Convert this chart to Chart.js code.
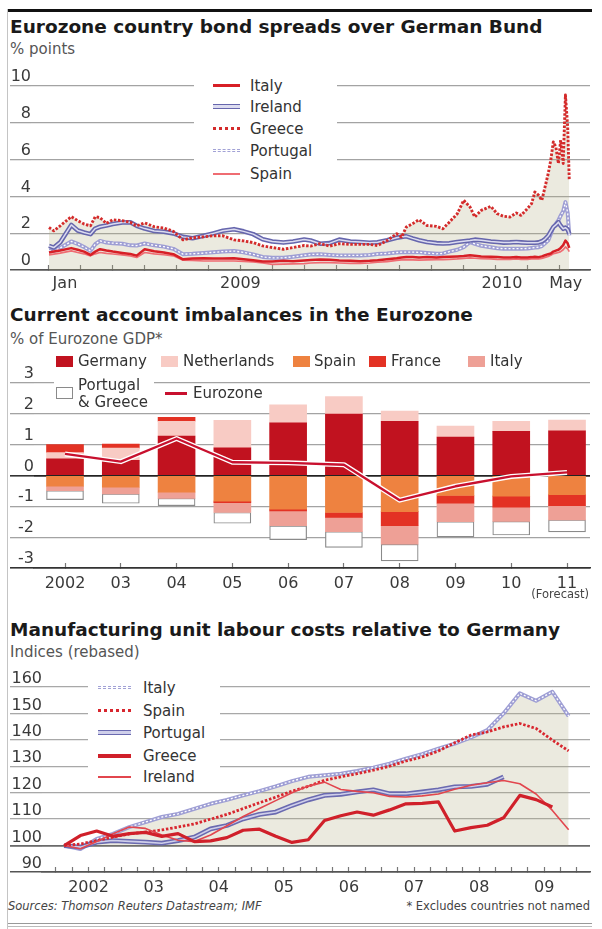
<!DOCTYPE html>
<html><head><meta charset="utf-8">
<script src="https://cdn.jsdelivr.net/npm/chart.js@4.4.1/dist/chart.umd.min.js"></script>
<style>
html,body{margin:0;padding:0;background:#fff;}
#wrap{position:relative;width:602px;height:929px;overflow:hidden;font-family:"DejaVu Sans",sans-serif;color:#333;}
.t{position:absolute;white-space:nowrap;line-height:1;transform:translateY(-50%);}
.title{left:10px;font-weight:bold;font-size:18.5px;color:#1a1a1a;}
.sub{left:10px;font-size:15px;color:#555;}
.li{font-size:15px;color:#333;}
canvas{position:absolute;left:0;}
.box{position:absolute;background:#fff;}
.sw{position:absolute;}
</style></head><body>
<div id="wrap">
  <div class="sw" style="left:8px;top:9px;width:584px;height:3px;background:#111;"></div>
  <div class="sw" style="left:7px;top:9px;width:1px;height:920px;background:#c4c4c4;"></div>

  <div class="t title" style="top:27px;">Eurozone country bond spreads over German Bund</div>
  <div class="t sub" style="top:49px;">% points</div>
  <canvas id="c1" width="602" height="235" style="top:60px;"></canvas>

  <div class="t title" style="top:315px;">Current account imbalances in the Eurozone</div>
  <div class="t sub" style="top:339px;">% of Eurozone GDP*</div>
  <canvas id="c2" width="602" height="260" style="top:350px;"></canvas>

  <div class="t title" style="top:630px;">Manufacturing unit labour costs relative to Germany</div>
  <div class="t sub" style="top:652px;">Indices (rebased)</div>
  <canvas id="c3" width="602" height="230" style="top:665px;"></canvas>

  <!-- legend panel 1 -->
  <div class="box" style="left:194px;top:76px;width:143px;height:110px;"></div>
  <div class="sw" style="left:213px;top:84px;width:27px;height:3px;background:#d71f26;"></div>
  <div class="t li" style="left:250px;top:86px;">Italy</div>
  <div class="sw" style="left:213px;top:104px;width:27px;height:3px;background:#dcdcf0;border:1.5px solid #6666ad;border-left:none;border-right:none;"></div>
  <div class="t li" style="left:250px;top:107px;">Ireland</div>
  <div class="sw" style="left:213px;top:127px;width:27px;height:0;border-top:3px dotted #d42b2b;"></div>
  <div class="t li" style="left:250px;top:129px;">Greece</div>
  <div class="sw" style="left:213px;top:149px;width:27px;height:1px;background:#fff;border:1.5px dashed #a2a2d6;border-left:none;border-right:none;"></div>
  <div class="t li" style="left:250px;top:151px;">Portugal</div>
  <div class="sw" style="left:213px;top:173px;width:27px;height:2px;background:#ef6c72;"></div>
  <div class="t li" style="left:250px;top:174px;">Spain</div>

  <!-- legend panel 2 -->
  <div class="sw" style="left:56px;top:356px;width:17px;height:11px;background:#c1121f;"></div>
  <div class="t li" style="left:78px;top:361px;">Germany</div>
  <div class="sw" style="left:161px;top:356px;width:17px;height:11px;background:#f8cbc4;"></div>
  <div class="t li" style="left:183px;top:361px;">Netherlands</div>
  <div class="sw" style="left:293px;top:356px;width:17px;height:11px;background:#ee8240;"></div>
  <div class="t li" style="left:314px;top:361px;">Spain</div>
  <div class="sw" style="left:369px;top:356px;width:17px;height:11px;background:#e33224;"></div>
  <div class="t li" style="left:391px;top:361px;">France</div>
  <div class="sw" style="left:468px;top:356px;width:17px;height:11px;background:#eea096;"></div>
  <div class="t li" style="left:490px;top:361px;">Italy</div>
  <div class="box" style="left:54px;top:376px;width:100px;height:32px;"></div>
  <div class="sw" style="left:56px;top:387px;width:15px;height:10px;background:#fff;border:1px solid #8a8a8a;"></div>
  <div class="t li" style="left:78px;top:385px;">Portugal</div>
  <div class="t li" style="left:78px;top:402px;">&amp; Greece</div>
  <div class="sw" style="left:165px;top:392px;width:22px;height:3px;background:#c8102e;"></div>
  <div class="t li" style="left:193px;top:393px;">Eurozone</div>
  <div class="t" style="right:13px;top:595px;font-size:11.5px;color:#444;">(Forecast)</div>

  <!-- legend panel 3 -->
  <div class="box" style="left:88px;top:677px;width:132px;height:110px;"></div>
  <div class="sw" style="left:98px;top:686px;width:33px;height:1px;background:#fff;border:1.5px dashed #a2a2d6;border-left:none;border-right:none;"></div>
  <div class="t li" style="left:143px;top:688px;">Italy</div>
  <div class="sw" style="left:98px;top:709px;width:33px;height:0;border-top:3px dotted #d8262e;"></div>
  <div class="t li" style="left:143px;top:711px;">Spain</div>
  <div class="sw" style="left:98px;top:730px;width:33px;height:3px;background:#cfcfea;border:1.8px solid #6a6ab0;border-left:none;border-right:none;"></div>
  <div class="t li" style="left:143px;top:733px;">Portugal</div>
  <div class="sw" style="left:98px;top:754px;width:33px;height:4px;background:#d0202a;"></div>
  <div class="t li" style="left:143px;top:756px;">Greece</div>
  <div class="sw" style="left:98px;top:776px;width:33px;height:2px;background:#e2464e;"></div>
  <div class="t li" style="left:143px;top:777px;">Ireland</div>

  <div class="t" style="left:8px;top:907px;font-size:11.5px;font-style:italic;color:#444;">Sources: Thomson Reuters Datastream; IMF</div>
  <div class="t" style="right:12px;top:907px;font-size:11.5px;color:#444;">* Excludes countries not named</div>
  <div class="sw" style="left:8px;top:923px;width:584px;height:1px;background:#999;"></div>
  <div class="sw" style="left:8px;top:926px;width:584px;height:1px;background:#bbb;"></div>
</div>
<script>
// ---------- Panel 1: bond spreads (months since 1 Jan 2009) ----------
const bondMonths = [0,0.15,0.35,0.7,0.9,1.1,1.3,1.45,1.6,1.8,2.0,2.3,2.55,2.75,3.0,3.3,3.6,3.9,4.2,4.5,4.85,5.15,5.45,5.8,6.1,6.4,6.7,7.0,7.35,7.65,8.0,8.2,8.5,8.8,9.1,9.45,9.75,10.05,10.3,10.6,10.9,11.05,11.2,11.4,11.6,11.85,12.15,12.35,12.55,12.8,13.0,13.2,13.35,13.55,13.85,14.05,14.25,14.45,14.65,14.8,15.0,15.13,15.23,15.35,15.45,15.55,15.65,15.73,15.81,15.89,15.97,16.04,16.12,16.19,16.26,16.31];
const bondGreece = [2.31,2.13,2.4,2.9,2.68,2.5,2.4,2.9,2.84,2.53,2.73,2.68,2.59,2.4,2.56,2.35,2.28,2.1,1.64,1.75,1.8,1.86,1.86,1.64,1.58,1.49,1.31,1.22,1.13,1.22,1.33,1.3,1.43,1.3,1.43,1.39,1.39,1.39,1.33,1.6,1.97,1.79,2.33,2.52,2.73,2.42,2.37,2.24,2.6,3.06,3.79,3.42,2.88,3.24,3.46,3.06,2.92,2.88,3.1,2.97,3.34,3.61,4.24,4.06,3.79,4.51,5.24,5.97,6.96,6.69,5.79,7.06,5.79,9.51,7.78,4.88];
const bondIreland = [1.31,1.22,1.5,2.45,2.15,2.04,1.95,2.25,2.35,2.42,2.5,2.58,2.59,2.4,2.25,2.12,2.08,1.99,1.8,1.73,1.86,1.99,2.13,2.22,2.1,1.95,1.67,1.55,1.49,1.55,1.66,1.6,1.43,1.46,1.65,1.55,1.52,1.48,1.51,1.62,1.75,1.8,1.83,1.72,1.62,1.52,1.46,1.44,1.45,1.52,1.56,1.6,1.65,1.62,1.55,1.52,1.49,1.5,1.52,1.5,1.48,1.48,1.48,1.5,1.56,1.68,1.86,2.1,2.33,2.45,2.6,2.4,2.24,2.3,2.2,1.97];
const bondPortugal = [1.04,1.04,1.2,1.55,1.42,1.25,1.04,1.4,1.58,1.49,1.46,1.43,1.34,1.33,1.44,1.34,1.27,1.15,0.86,0.88,0.92,0.96,1.0,1.03,0.96,0.85,0.71,0.66,0.66,0.72,0.8,0.84,0.86,0.82,0.79,0.79,0.79,0.82,0.87,0.9,0.95,0.97,0.97,0.97,0.96,0.92,0.88,0.9,1.0,1.1,1.24,1.52,1.42,1.32,1.24,1.18,1.16,1.16,1.16,1.16,1.17,1.2,1.22,1.24,1.3,1.45,1.61,1.95,2.33,2.5,2.7,2.95,3.2,3.69,3.1,1.88];
const bondItaly = [0.95,1.0,1.06,1.19,1.1,1.0,0.82,1.0,1.13,1.06,1.0,0.93,0.87,0.78,1.13,1.02,0.95,0.86,0.58,0.62,0.64,0.62,0.63,0.64,0.58,0.53,0.46,0.46,0.5,0.48,0.52,0.55,0.57,0.56,0.52,0.5,0.48,0.5,0.53,0.58,0.64,0.68,0.7,0.7,0.68,0.7,0.68,0.7,0.72,0.74,0.76,0.8,0.78,0.74,0.72,0.7,0.68,0.68,0.7,0.68,0.68,0.7,0.72,0.7,0.74,0.8,0.86,0.9,1.0,1.05,1.1,1.2,1.35,1.6,1.45,1.2];
const bondSpain = [0.82,0.86,0.92,1.04,0.95,0.88,0.77,0.88,0.95,0.9,0.87,0.82,0.76,0.68,0.95,0.88,0.83,0.77,0.53,0.52,0.49,0.49,0.49,0.49,0.47,0.44,0.38,0.31,0.32,0.33,0.35,0.38,0.4,0.4,0.38,0.36,0.36,0.38,0.42,0.46,0.52,0.55,0.56,0.55,0.54,0.55,0.56,0.56,0.58,0.6,0.63,0.66,0.64,0.62,0.6,0.58,0.57,0.58,0.6,0.58,0.58,0.6,0.6,0.6,0.63,0.68,0.74,0.8,0.88,0.92,0.95,1.0,1.1,1.25,1.15,1.0];
const bondTickMonths = [0,1,2,3,4,5,6,7,8,9,10,11,12,13,14,15,16];
const bondLabelPos = [0.5,6,14.2,16.2];
const bondLabels = ['Jan','2009','2010','May'];

// ---------- Panel 2: current account (% of Eurozone GDP) ----------
const caYears = ['2002','03','04','05','06','07','08','09','10','11'];
const caGermany = [0.54,0.49,1.28,0.9,1.71,1.99,1.76,1.25,1.43,1.45];
const caNetherlands = [0.2,0.4,0.48,0.89,0.58,0.57,0.33,0.35,0.33,0.35];
const caSpain = [-0.35,-0.38,-0.54,-0.83,-1.09,-1.2,-1.17,-0.65,-0.67,-0.62];
const caFrance = [0.26,0.13,0.13,-0.05,-0.06,-0.16,-0.46,-0.25,-0.36,-0.36];
const caItaly = [-0.14,-0.22,-0.2,-0.32,-0.48,-0.46,-0.6,-0.6,-0.46,-0.46];
const caPortGreece = [-0.29,-0.3,-0.24,-0.35,-0.45,-0.51,-0.54,-0.49,-0.44,-0.39];
const caEurozone = [0.7,0.45,1.2,0.43,0.41,0.35,-0.8,-0.35,-0.03,0.1];

// ---------- Panel 3: unit labour costs, quarterly from 2002 Q1 ----------
const ulcItaly = [100,98.7,102.5,104.4,107,108.9,110.8,112,113.9,115.8,117.3,119,120.6,122.4,124.4,126,126.6,127.2,128.2,129.5,131,132.9,134.6,136.7,138.6,140.9,143.7,150,157.6,154.8,158.2,149];
const ulcSpain = [100,100.6,101.9,103.2,104.4,105.1,105.9,107,108.2,110,111.8,114,116.2,118.3,120.6,122.4,124.7,126,127.2,128.5,130,132,133.5,135.8,138.9,141.8,143,144.9,146.2,144.3,139.9,135.8];
const ulcPortugal = [100,99.4,101.3,101.9,101.6,101.3,100.9,101.9,103.2,106.3,107.6,110.1,111.8,112.7,115.2,117.3,119,119.4,120.3,121.1,119.6,119.6,120.3,121.1,122.2,122.4,123.2,126,null,null,null,null];
const ulcGreece = [100,103.8,105.5,103.5,104.5,105,103.5,104.5,101.5,101.8,103,105.8,106.2,103.5,101.2,102.2,109.5,111.3,112.7,111.5,113.5,115.8,116,116.5,105.5,106.8,107.7,110.5,119,117.4,114.6,null];
const ulcIreland = [100,98.8,101.5,104.5,107,106.5,104,102,101.5,104,107.5,111,114,117,120,122.5,124,121.2,120.5,120,118.6,118.4,118.8,119.5,121.3,122.8,123.8,124.6,123.4,119.5,113.3,106];
const ulcYearLabels = ['2002','03','04','05','06','07','08','09'];
const ulcFirstYear = 2002;

const FONT = '"DejaVu Sans", sans-serif';
Chart.defaults.font.family = FONT;
Chart.defaults.color = '#333';
const FILL = 'rgba(175,171,127,0.25)';
const tickFont = {family: FONT, size: 16};

function pts(xs, ys){ return xs.map((x,i)=>({x:x, y:ys[i]})).filter(p=>p.y!==null && p.y!==undefined); }
function base(padTop){
  return {responsive:false, animation:false, devicePixelRatio:1, events:[],
    layout:{padding:{left:10,right:12,top:padTop,bottom:0}},
    elements:{point:{radius:0}, line:{tension:0, borderCapStyle:'butt', borderJoinStyle:'round', fill:false}},
    plugins:{legend:{display:false}, tooltip:{enabled:false}, filler:{drawTime:'beforeDatasetsDraw'}}};
}
function yAxis(min, max, step, w, gridFn, widthFn, off){
  return {type:'linear', min:min, max:max, position:'left',
    ticks:{stepSize:step, padding:-w, labelOffset:off, font:tickFont, color:'#3a3a3a'},
    grid:{color:gridFn, tickColor:gridFn, lineWidth:widthFn, tickWidth:widthFn, drawTicks:true, tickLength:w},
    border:{display:false},
    afterFit:s=>{s.width=w;}};
}
function xAxis(min, max, tickVals, labelPos, labels, h, pad){
  return {type:'linear', min:min, max:max, offset:false,
    afterBuildTicks:s=>{
      const vals=[...new Set([...tickVals,...labelPos])].sort((a,b)=>a-b);
      s.ticks=vals.map(v=>({value:v}));
    },
    ticks:{autoSkip:false, maxRotation:0, minRotation:0, padding:pad, font:tickFont, color:'#3a3a3a',
      callback:(v)=>{const i=labelPos.indexOf(v); return i>=0?labels[i]:'';}},
    grid:{offset:false, drawOnChartArea:false, drawTicks:true, tickLength:-5, tickWidth:1.2,
      tickColor:(c)=> (c.tick && tickVals.includes(c.tick.value)) ? '#777' : 'rgba(0,0,0,0)'},
    border:{display:true, color:'#555', width:1.5},
    afterFit:s=>{s.height=h;}};
}

// Panel 1
{
  const o = base(26);
  o.scales = {
    x: xAxis(-0.564, 16.96, bondTickMonths, bondLabelPos, bondLabels, 25, 9),
    y: yAxis(0, 10, 2, 21, c=> (c.tick && c.tick.value===0) ? '#555' : '#a3a3a3', c=> (c.tick && c.tick.value===0) ? 1.5 : 1.3, -9)
  };
  new Chart(document.getElementById('c1'), {type:'line', data:{datasets:[
    {label:'Greece', data:pts(bondMonths,bondGreece), borderColor:'#d42b2b', borderWidth:2.9, borderDash:[2.5,1.6], fill:'origin', backgroundColor:FILL},
    {label:'Italy', data:pts(bondMonths,bondItaly), borderColor:'#d71f26', borderWidth:2.5},
    {label:'Spain', data:pts(bondMonths,bondSpain), borderColor:'#ef6c72', borderWidth:1.7},
    {label:'Ireland', data:pts(bondMonths,bondIreland), borderColor:'#dcdcf0', borderWidth:1.5},
    {label:'Ireland casing', data:pts(bondMonths,bondIreland), borderColor:'#6666ad', borderWidth:4.6},
    {label:'Portugal', data:pts(bondMonths,bondPortugal), borderColor:'#ffffff', borderWidth:1.3, borderDash:[2,2]},
    {label:'Portugal casing', data:pts(bondMonths,bondPortugal), borderColor:'#9e9ed4', borderWidth:4}
  ]}, options:o});
}

// Panel 2
{
  const idx = caYears.map((_,i)=>i);
  const o = base(33);
  const gc = c=>{const v=c.tick?c.tick.value:null; return (v===0||v===-3)?'#333':'#a3a3a3';};
  const gw = c=>{const v=c.tick?c.tick.value:null; return (v===0||v===-3)?1.6:1.3;};
  o.scales = {
    x: Object.assign(xAxis(-0.556, 9.412, idx, idx, caYears, 42, 11), {stacked:true}),
    y: Object.assign(yAxis(-3, 3, 1, 24, gc, gw, -9), {stacked:true}),
    yz: {type:'linear', min:-3, max:3, position:'left', stacked:true, z:1,
      afterBuildTicks:s=>{s.ticks=[{value:0}];},
      ticks:{display:false}, grid:{color:'#222', lineWidth:1.6, drawTicks:false}, border:{display:false},
      afterFit:s=>{s.width=0;}}
  };
  o.scales.x.border = {display:true, color:'#333', width:1.6};
  const bar = (label, vals, color, extra)=>Object.assign({type:'bar', label:label, data:pts(idx,vals), backgroundColor:color, barThickness:37, borderWidth:0, order:2}, extra||{});
  new Chart(document.getElementById('c2'), {data:{datasets:[
    {type:'line', label:'Eurozone', data:pts(idx,caEurozone), borderColor:'#c8102e', borderWidth:2.4, stack:'ez1', order:0},
    {type:'line', label:'Eurozone casing', data:pts(idx,caEurozone), borderColor:'#ffffff', borderWidth:5, stack:'ez2', order:1},
    bar('Germany', caGermany, '#c1121f'),
    bar('Netherlands', caNetherlands, '#f8cbc4'),
    bar('Spain', caSpain, '#ee8240'),
    bar('France', caFrance, '#e33224'),
    bar('Italy', caItaly, '#eea096'),
    bar('Portugal & Greece', caPortGreece, '#ffffff', {borderColor:'#8a8a8a', borderWidth:1.2, borderSkipped:false})
  ]}, options:o});
}

// Panel 3
{
  const qx = ulcItaly.map((_,i)=>ulcFirstYear + 0.125 + 0.25*i);
  const qTicks = []; for (let q=0;q<=32;q++) qTicks.push(ulcFirstYear + q*0.25);
  const yPos = ulcYearLabels.map((_,i)=>ulcFirstYear + i + 0.5);
  const o = base(22);
  const gc = c=>{const v=c.tick?c.tick.value:null; return v===100?'#6a6a6a':(v===90?'#555':'#a8a8a8');};
  const gw = c=>{const v=c.tick?c.tick.value:null; return v===100?1.8:(v===90?1.5:1.3);};
  o.scales = {
    x: xAxis(2001.785, 2010.203, qTicks, yPos, ulcYearLabels, 23, 11),
    y: yAxis(90, 160, 10, 32, gc, gw, -8)
  };
  new Chart(document.getElementById('c3'), {type:'line', data:{datasets:[
    {label:'Greece', data:pts(qx,ulcGreece), borderColor:'#d0202a', borderWidth:3.2},
    {label:'Ireland', data:pts(qx,ulcIreland), borderColor:'#e2464e', borderWidth:1.6},
    {label:'Spain', data:pts(qx,ulcSpain), borderColor:'#d8262e', borderWidth:2.8, borderDash:[2.5,1.8]},
    {label:'Portugal', data:pts(qx,ulcPortugal), borderColor:'#cfcfea', borderWidth:1.6},
    {label:'Portugal casing', data:pts(qx,ulcPortugal), borderColor:'#6a6ab0', borderWidth:4.8},
    {label:'Italy', data:pts(qx,ulcItaly), borderColor:'#ffffff', borderWidth:1.3, borderDash:[2,2]},
    {label:'Italy casing', data:pts(qx,ulcItaly), borderColor:'#9e9ed4', borderWidth:4, fill:{value:100}, backgroundColor:FILL}
  ]}, options:o});
}
</script>
</body></html>
